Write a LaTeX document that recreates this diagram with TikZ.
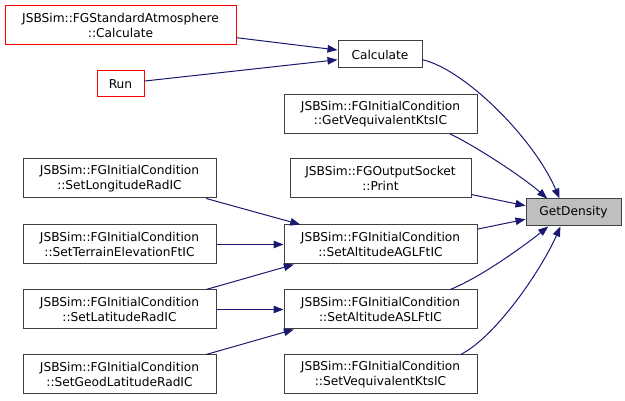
\documentclass[tikz,border=0pt]{standalone}
\usepackage{fontspec}
\setmainfont{DejaVu Sans}
\usepackage{xcolor}
\usetikzlibrary{arrows.meta}
\definecolor{edge}{HTML}{191970}
\definecolor{frame}{HTML}{404040}
\definecolor{trunc}{HTML}{FF0000}
\definecolor{focus}{HTML}{BFBFBF}

\begin{document}
\begin{tikzpicture}[
  x=1pt, y=-1pt,
  font=\fontsize{12.2}{14.5}\selectfont,
  fn/.style={draw=frame, line width=1pt, fill=white, align=center,
             inner sep=0pt, minimum width=193, minimum height=39},
  fnred/.style={fn, draw=trunc},
  fnsmall/.style={fn, minimum height=27},
  call/.style={-{Triangle[length=10pt,width=7.5pt]}, line width=1pt, draw=edge}
]
  \useasboundingbox (0,0) rectangle (625,401);
  % callers of Calculate
  \node[fnred, minimum width=231] (std) at (120.5,25.5) {JSBSim::FGStandardAtmosphere\\::Calculate};
  \node[fnred, fnsmall, draw=trunc, minimum width=47, minimum height=26] (run) at (120.5,84) {Run};
  % middle column
  \node[fnsmall, minimum width=84] (calc) at (380,54.5) {Calculate};
  \node[fn] (gveq) at (380.5,114) {JSBSim::FGInitialCondition\\::GetVequivalentKtsIC};
  \node[fn, minimum width=181] (print) at (380.5,178.5) {JSBSim::FGOutputSocket\\::Print};
  \node[fn] (agl) at (380.5,244.5) {JSBSim::FGInitialCondition\\::SetAltitudeAGLFtIC};
  \node[fn] (asl) at (380.5,309.5) {JSBSim::FGInitialCondition\\::SetAltitudeASLFtIC};
  \node[fn] (sveq) at (380.5,374.5) {JSBSim::FGInitialCondition\\::SetVequivalentKtsIC};
  % the function itself
  \node[fnsmall, minimum width=95, fill=focus] (gd) at (573.5,212.5) {GetDensity};
  % left column
  \node[fn] (lon) at (119.5,178.5) {JSBSim::FGInitialCondition\\::SetLongitudeRadIC};
  \node[fn] (terr) at (119.5,244.5) {JSBSim::FGInitialCondition\\::SetTerrainElevationFtIC};
  \node[fn] (lat) at (119.5,309.5) {JSBSim::FGInitialCondition\\::SetLatitudeRadIC};
  \node[fn] (geod) at (119.5,374.5) {JSBSim::FGInitialCondition\\::SetGeodLatitudeRadIC};

  \draw[call] (std.-6.7) -- (calc.174);
  \draw[call] (run.7.3) -- (calc.187.5);

  \draw[call] (calc.-7.5) .. controls +(43,10) and +(-25,-59) .. (gd.135);
  \draw[call] (gveq.-16) .. controls +(25,12) and +(-25,-22) .. (gd.152);
  \draw[call] (print.-10.3) -- (gd.172);
  \draw[call] (agl.9.7) -- (gd.188);
  \draw[call] (asl.16.3) .. controls +(30,-12) and +(-25,20) .. (gd.209);
  \draw[call] (sveq.14.7) .. controls +(35,-18) and +(-20,45) .. (gd.227);

  \draw[call] (lon.-13.1) -- (agl.166.7);
  \draw[call] (terr) -- (agl);
  \draw[call] (lat.13.1) -- (agl.193.3);
  \draw[call] (lat) -- (asl);
  \draw[call] (geod.13.1) -- (asl.193.3);
\end{tikzpicture}
\end{document}
